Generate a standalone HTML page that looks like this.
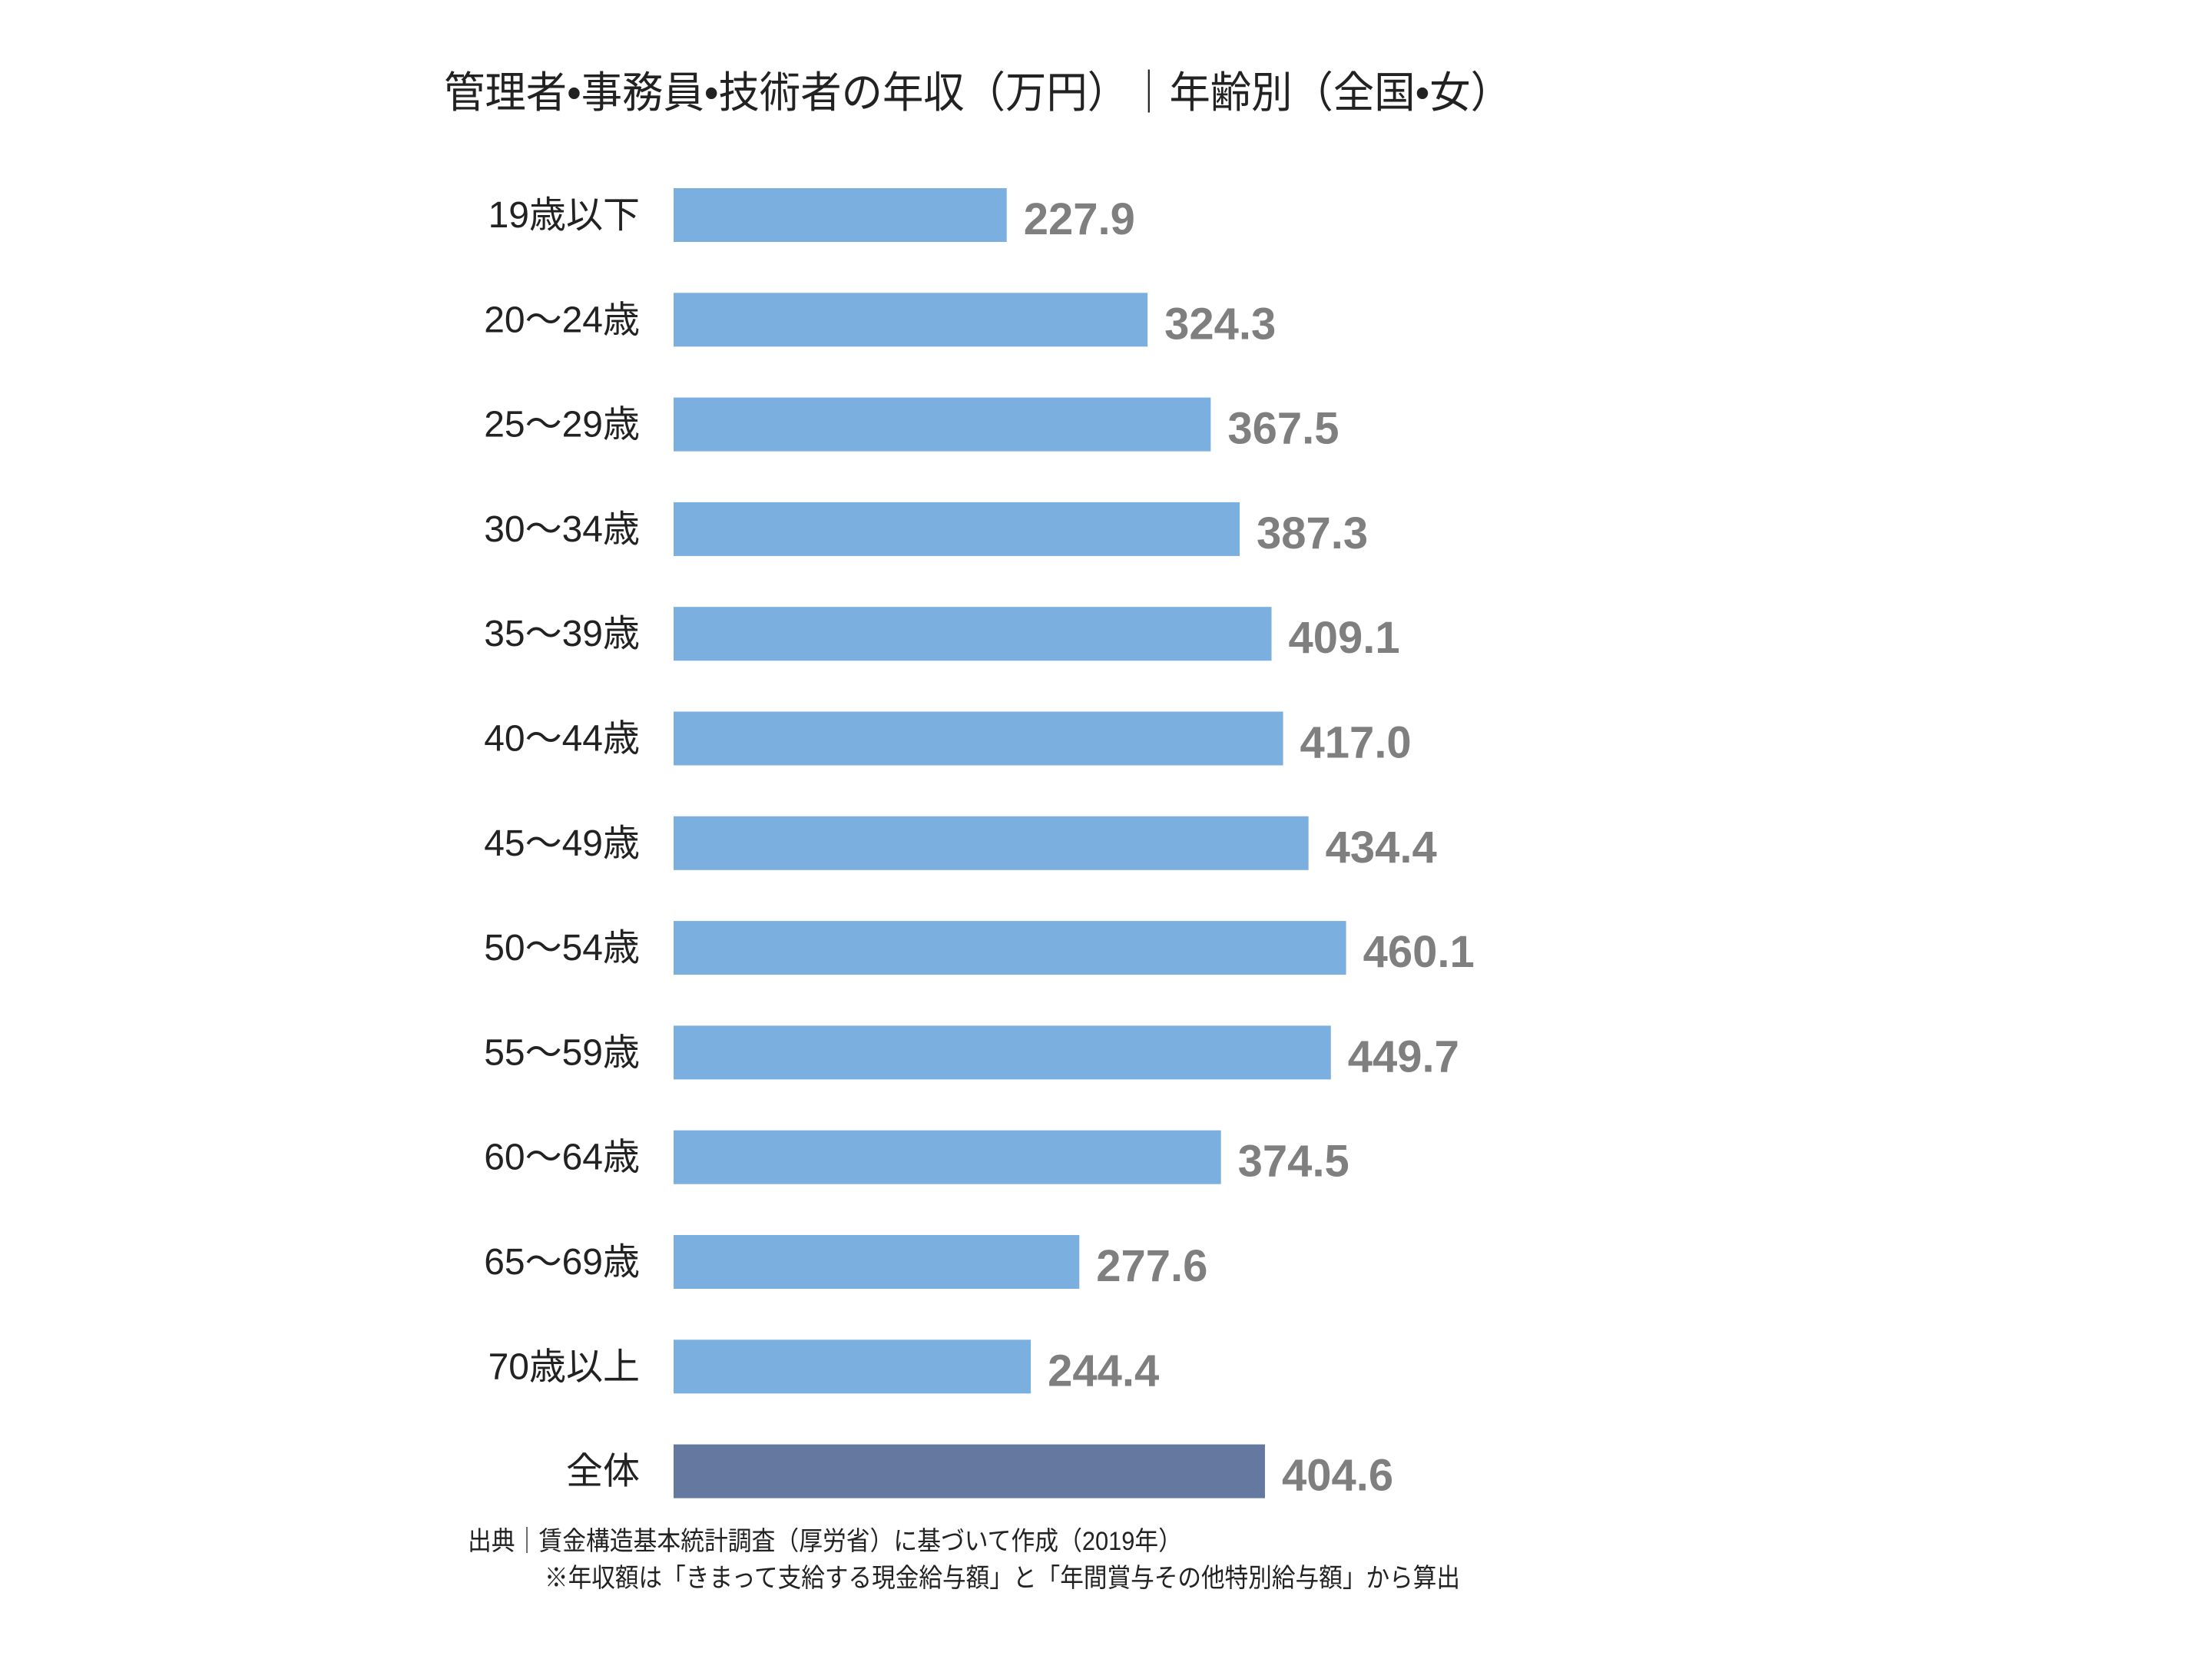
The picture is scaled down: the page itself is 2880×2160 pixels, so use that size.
<!DOCTYPE html>
<html><head><meta charset="utf-8">
<style>
html,body{margin:0;padding:0;background:#fff;}
svg{display:block;}
</style></head>
<body>
<svg id="chart" width="2880" height="2160" viewBox="0 0 2880 2160" xmlns="http://www.w3.org/2000/svg">
<rect width="2880" height="2160" fill="#fff"/>
<text x="578" y="140" font-size="56" fill="#222" textLength="1390" lengthAdjust="spacingAndGlyphs" font-family="'Liberation Sans','Noto Sans CJK JP',sans-serif">管理者•事務員•技術者の年収（万円）｜年齢別（全国•女）</text>
<g id="bars"></g>
<text x="609" y="2018" font-size="34" fill="#222" textLength="930" lengthAdjust="spacingAndGlyphs" font-family="'Liberation Sans','Noto Sans CJK JP',sans-serif">出典｜賃金構造基本統計調査（厚労省）に基づいて作成（2019年）</text>
<text x="709" y="2066" font-size="34" fill="#222" textLength="1192" lengthAdjust="spacingAndGlyphs" font-family="'Liberation Sans','Noto Sans CJK JP',sans-serif">※年収額は「きまって支給する現金給与額」と「年間賞与その他特別給与額」から算出</text>
</svg>
<script>
const categories = ["19歳以下","20～24歳","25～29歳","30～34歳","35～39歳","40～44歳","45～49歳","50～54歳","55～59歳","60～64歳","65～69歳","70歳以上","全体"];
const values = [227.9,324.3,367.5,387.3,409.1,417.0,434.4,460.1,449.7,374.5,277.6,244.4,404.6];
const valueLabels = ["227.9","324.3","367.5","387.3","409.1","417.0","434.4","460.1","449.7","374.5","277.6","244.4","404.6"];

const NS = "http://www.w3.org/2000/svg";
const x0 = 877, pxPerUnit = 1.903;
const xScale = v => v * pxPerUnit;
const yTop = 245, pitch = 136.3, barH = 70;
const yScale = i => yTop + i * pitch;
const g = document.getElementById('bars');
const font = "'Liberation Sans','Noto Sans CJK JP',sans-serif";

categories.forEach((c, i) => {
  const y = yScale(i);
  const w = xScale(values[i]);
  const isTotal = i === categories.length - 1;

  const r = document.createElementNS(NS, 'rect');
  r.setAttribute('x', x0); r.setAttribute('y', y);
  r.setAttribute('width', w); r.setAttribute('height', barH);
  r.setAttribute('fill', isTotal ? '#6578a0' : '#7aafdf');
  
  
  g.appendChild(r);

  const lab = document.createElementNS(NS, 'text');
  lab.setAttribute('x', 833); lab.setAttribute('y', y + barH / 2 + 16);
  lab.setAttribute('text-anchor', 'end');
  lab.setAttribute('font-size', '48');
  lab.setAttribute('fill', '#222');
  lab.setAttribute('font-family', font);
  lab.textContent = c;
  
  
  g.appendChild(lab);

  const vl = document.createElementNS(NS, 'text');
  vl.setAttribute('x', x0 + w + 22); vl.setAttribute('y', y + barH / 2 + 25);
  vl.setAttribute('font-size', '58');
  vl.setAttribute('font-weight', 'bold');
  vl.setAttribute('fill', '#7f7f7f');
  vl.setAttribute('font-family', font);
  vl.textContent = valueLabels[i];
  
  
  g.appendChild(vl);
});
</script>
</body></html>
